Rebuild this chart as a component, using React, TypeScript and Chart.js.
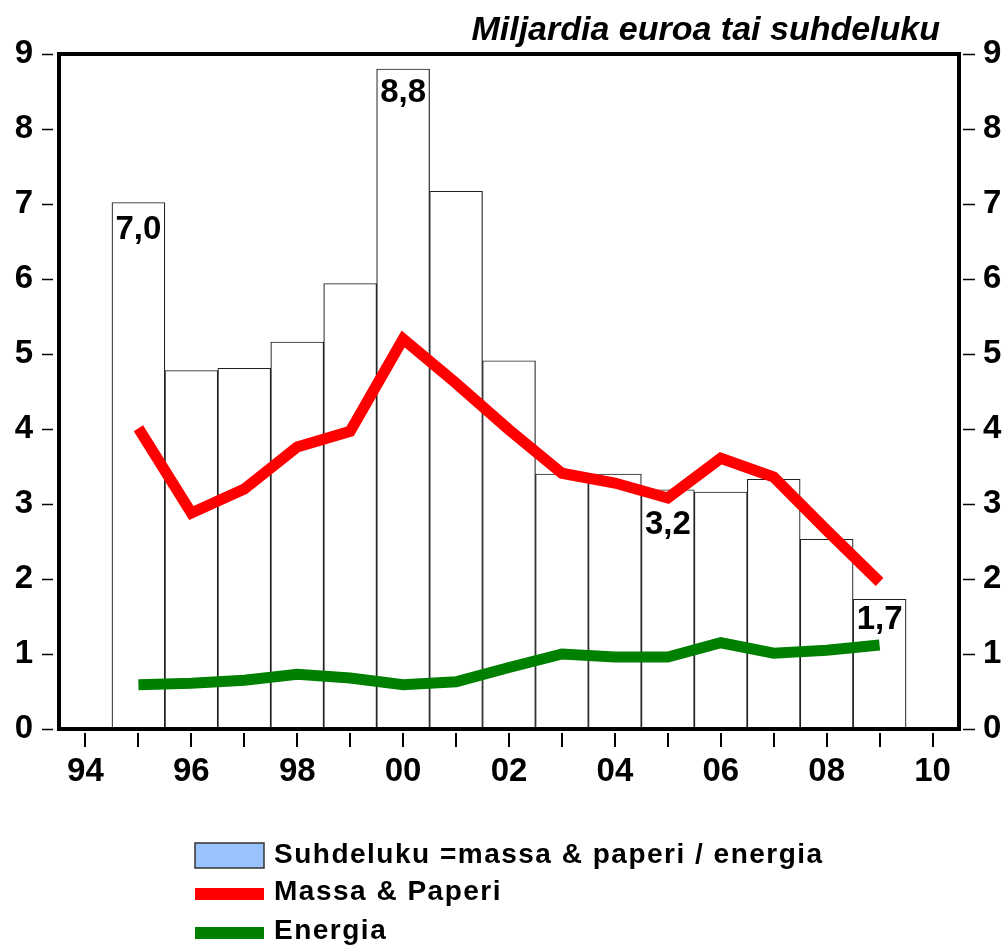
import React, { useEffect, useRef } from "react";
import { Chart, registerables } from "chart.js";

Chart.register(...registerables);

const years = [1994, 1995, 1996, 1997, 1998, 1999, 2000, 2001, 2002, 2003, 2004, 2005, 2006, 2007, 2008, 2009, 2010];
// values for 1995..2009 (null padding for 1994 and 2010)
const ratio = [null, 7.02, 4.78, 4.81, 5.16, 5.94, 8.8, 7.17, 4.91, 3.4, 3.4, 3.19, 3.16, 3.33, 2.53, 1.73, null];
const massaPaperi = [null, 4.01, 2.88, 3.2, 3.76, 3.97, 5.2, 4.61, 3.99, 3.41, 3.28, 3.08, 3.61, 3.36, 2.65, 1.96, null];
const energia = [null, 0.59, 0.61, 0.65, 0.73, 0.68, 0.59, 0.63, 0.82, 1.0, 0.96, 0.96, 1.15, 1.01, 1.05, 1.12, null];
const yTicks = [0, 1, 2, 3, 4, 5, 6, 7, 8, 9];
const annotations = [
  { year: 1995, text: "7,0", dy: 27 },
  { year: 2000, text: "8,8", dy: 24 },
  { year: 2005, text: "3,2", dy: 35 },
  { year: 2009, text: "1,7", dy: 21 },
];
const legendItems = [
  { label: "Suhdeluku =massa & paperi / energia", kind: "box", color: "#99C2FF" },
  { label: "Massa & Paperi", kind: "line", color: "#FF0000" },
  { label: "Energia", kind: "line", color: "#008000" },
];
const titleText = "Miljardia euroa tai suhdeluku";

const FONT = "'Liberation Sans', Arial, sans-serif";

const decorPlugin = {
  id: "decor",
  afterDraw(chart: any) {
    const ctx = chart.ctx;
    const { left, right, top, bottom } = chart.chartArea;
    const x = chart.scales.x;
    const y = chart.scales.y;
    ctx.save();
    // annotations
    ctx.fillStyle = "#000";
    ctx.font = `bold 33px ${FONT}`;
    ctx.textAlign = "center";
    ctx.textBaseline = "middle";
    annotations.forEach((a) => {
      const i = years.indexOf(a.year);
      const v = ratio[i] as number;
      ctx.fillText(a.text, x.getPixelForValue(i), y.getPixelForValue(v) + a.dy);
    });
    // frame
    ctx.strokeStyle = "#000";
    ctx.lineWidth = 4;
    ctx.strokeRect(left, top, right - left, bottom - top);
    // x ticks
    ctx.lineWidth = 2;
    years.forEach((_, i) => {
      const px = Math.round(x.getPixelForValue(i));
      ctx.beginPath();
      ctx.moveTo(px, bottom + 4);
      ctx.lineTo(px, bottom + 18);
      ctx.stroke();
    });
    // y ticks
    ctx.lineWidth = 1.5;
    yTicks.forEach((v) => {
      const py = Math.round(y.getPixelForValue(v)) + 0.5;
      ctx.beginPath();
      ctx.moveTo(left - 17, py);
      ctx.lineTo(left - 6, py);
      ctx.moveTo(right + 4, py);
      ctx.lineTo(right + 16, py);
      ctx.stroke();
    });
    // title
    ctx.font = `italic bold 34px ${FONT}`;
    ctx.textAlign = "right";
    ctx.textBaseline = "alphabetic";
    ctx.fillText(titleText, 940, 40);
    // legend
    ctx.font = `bold 28px ${FONT}`;
    (ctx as any).letterSpacing = "1.5px";
    ctx.textAlign = "left";
    const rowBase = [863, 900, 939];
    legendItems.forEach((it, k) => {
      const base = rowBase[k];
      if (it.kind === "box") {
        ctx.fillStyle = it.color;
        ctx.fillRect(195, base - 20, 69, 25);
        ctx.strokeStyle = "#333";
        ctx.lineWidth = 1.5;
        ctx.strokeRect(195, base - 20, 69, 25);
      } else {
        ctx.fillStyle = it.color;
        ctx.fillRect(195, base - 12, 69, 12);
      }
      ctx.fillStyle = "#000";
      ctx.fillText(it.label, 274, base);
    });
    ctx.restore();
  },
};

export default function App() {
  const ref = useRef<HTMLCanvasElement>(null);
  useEffect(() => {
    if (!ref.current) return;
    const tickFont = { family: FONT, size: 33, weight: "bold" as const };
    const chart = new Chart(ref.current, {
      type: "bar",
      data: {
        labels: years.map(String),
        datasets: [
          {
            type: "line",
            label: "Massa & Paperi",
            data: massaPaperi,
            borderColor: "#FF0000",
            borderWidth: 11,
            pointRadius: 0,
            tension: 0,
            borderJoinStyle: "miter",
            borderCapStyle: "butt",
            order: 1,
          } as any,
          {
            type: "line",
            label: "Energia",
            data: energia,
            borderColor: "#008000",
            borderWidth: 11,
            pointRadius: 0,
            tension: 0,
            borderJoinStyle: "miter",
            borderCapStyle: "butt",
            order: 2,
          } as any,
          {
            type: "bar",
            label: "Suhdeluku",
            data: ratio,
            backgroundColor: "#FFFFFF",
            borderColor: "#222222",
            borderWidth: 1.2,
            barPercentage: 1,
            categoryPercentage: 1,
            borderSkipped: "bottom",
            order: 3,
          } as any,
        ],
      },
      options: {
        responsive: false,
        animation: false,
        layout: { padding: { top: 54, left: 0, right: 0, bottom: 0 } },
        plugins: { legend: { display: false }, tooltip: { enabled: false } },
        scales: {
          x: {
            type: "category",
            offset: true,
            grid: { display: false },
            border: { display: false },
            ticks: {
              autoSkip: false,
              maxRotation: 0,
              color: "#000",
              font: tickFont,
              padding: 15,
              callback: (_v: any, i: number) => (years[i] % 2 === 0 ? String(years[i] % 100).padStart(2, "0") : ""),
            },
            afterFit: (s: any) => {
              s.height = 216;
            },
          },
          y: {
            position: "left",
            min: 0,
            max: 9,
            grid: { display: false },
            border: { display: false },
            ticks: { stepSize: 1, color: "#000", font: tickFont, padding: 18 },
            afterFit: (s: any) => {
              s.width = 59;
            },
          },
          y2: {
            position: "right",
            min: 0,
            max: 9,
            grid: { display: false },
            border: { display: false },
            ticks: { stepSize: 1, color: "#000", font: tickFont, padding: 16 },
            afterFit: (s: any) => {
              s.width = 46;
            },
          },
        },
      } as any,
      plugins: [decorPlugin],
    });
    return () => chart.destroy();
  }, []);
  return (
    <canvas
      ref={ref}
      width={1005}
      height={945}
      style={{ position: "absolute", left: 0, top: 0, display: "block", background: "#fff" }}
    />
  );
}
